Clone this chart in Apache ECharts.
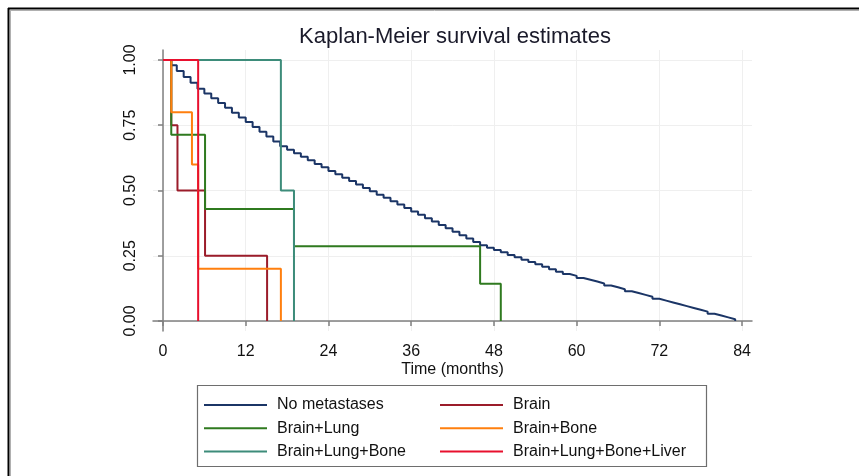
<!DOCTYPE html>
<html><head><meta charset="utf-8">
<script src="https://cdn.jsdelivr.net/npm/echarts@6/dist/echarts.min.js"></script>
<style>html,body{margin:0;padding:0;background:#fff}#c{width:859px;height:476px}</style>
</head><body><div id="c"></div>
<script>
const titleText = 'Kaplan-Meier survival estimates';
const xAxisName = 'Time (months)';
const xTicks = [0, 12, 24, 36, 48, 60, 72, 84];
const yTicks = [0, 0.25, 0.5, 0.75, 1];
const seriesNames = ['No metastases', 'Brain', 'Brain+Lung', 'Brain+Bone', 'Brain+Lung+Bone', 'Brain+Lung+Bone+Liver'];

const noMetTimes = [0, 1.2, 2, 3, 4, 5, 6, 7, 8, 9, 10, 11, 12, 13, 14, 15, 16, 17, 18, 19, 20,
  21, 22, 23, 24, 25, 26, 27, 28, 29, 30, 31, 32, 33, 34, 35, 36, 37, 38, 39, 40,
  41, 42, 43, 44, 45, 46, 47, 48, 49, 50, 51, 52, 53, 54, 55, 56, 57, 58, 59, 60,
  61, 62, 63, 64, 65, 66, 67, 68, 69, 70, 71, 72, 73, 74, 75, 76, 77, 78, 79, 80,
  81, 82, 83];
const noMetSurv = [1, 0.98, 0.958, 0.935, 0.913, 0.89, 0.872, 0.853, 0.835, 0.817, 0.798,
  0.78, 0.762, 0.743, 0.725, 0.707, 0.688, 0.67, 0.656, 0.643, 0.629,
  0.616, 0.602, 0.589, 0.575, 0.562, 0.549, 0.536, 0.523, 0.51, 0.497,
  0.484, 0.472, 0.459, 0.446, 0.433, 0.42, 0.407, 0.394, 0.381, 0.368,
  0.355, 0.342, 0.329, 0.316, 0.303, 0.29, 0.281, 0.272, 0.263, 0.253,
  0.244, 0.235, 0.226, 0.217, 0.208, 0.198, 0.189, 0.18, 0.173, 0.165,
  0.158, 0.151, 0.144, 0.136, 0.129, 0.122, 0.114, 0.107, 0.1, 0.093,
  0.085, 0.078, 0.071, 0.064, 0.057, 0.05, 0.043, 0.036, 0.028, 0.021,
  0.014, 0.007, 0.0];

const brainTimes = [0, 1.2, 2.1, 6.1, 15.1];
const brainSurv = [1, 0.75, 0.5, 0.25, 0];

const brainLungTimes = [0, 1.2, 6.1, 19.0, 46.0, 49.0];
const brainLungSurv = [1, 0.714, 0.429, 0.286, 0.143, 0];

const brainBoneTimes = [0, 1.2, 4.2, 5.1, 17.1];
const brainBoneSurv = [1, 0.8, 0.6, 0.2, 0];

const brainLungBoneTimes = [0, 17.1, 19.0];
const brainLungBoneSurv = [1, 0.5, 0];

const liverTimes = [0, 5.1];
const liverSurv = [1, 0];

const colors = ['#1b3566', '#9b1c2a', '#2f7a1f', '#ff7f0e', '#3d8c7a', '#e8102e'];

function pairs(t, s) { return t.map((v, i) => [v, s[i]]); }
const allData = [
  pairs(noMetTimes, noMetSurv),
  pairs(brainTimes, brainSurv),
  pairs(brainLungTimes, brainLungSurv),
  pairs(brainBoneTimes, brainBoneSurv),
  pairs(brainLungBoneTimes, brainLungBoneSurv),
  pairs(liverTimes, liverSurv)
];

const font = 'Liberation Sans, Arial, sans-serif';
const chart = echarts.init(document.getElementById('c'), null, {renderer: 'canvas'});

const legendCommon = {
  orient: 'vertical', selectedMode: false, padding: 0,
  itemWidth: 63, itemHeight: 2, itemGap: 7.3, icon: 'rect',
  textStyle: {fontFamily: font, fontSize: 16, color: '#111', lineHeight: 16, padding: [0, 0, 0, 5]}
};

chart.setOption({
  animation: false,
  color: colors,
  title: {
    text: titleText, left: 450, top: 21, textAlign: 'center',
    textStyle: {fontFamily: font, fontSize: 22, fontWeight: 'normal', color: '#1a1a2a'}
  },
  grid: {left: 153, right: 107, top: 50, bottom: 145, containLabel: false},
  legend: [
    Object.assign({}, legendCommon, {left: 204, top: 397, data: [seriesNames[0], seriesNames[2], seriesNames[4]]}),
    Object.assign({}, legendCommon, {left: 440, top: 397, data: [seriesNames[1], seriesNames[3], seriesNames[5]]})
  ],
  xAxis: {
    type: 'value', min: -1.45, max: 85.44,
    name: xAxisName, nameLocation: 'middle', nameGap: 31, nameMoveOverlap: false,
    nameTextStyle: {fontFamily: font, fontSize: 16, color: '#111'},
    axisLine: {show: true, lineStyle: {color: '#808080', width: 1.5}},
    axisTick: {show: true, length: 5, customValues: xTicks, lineStyle: {color: '#808080', width: 1.5}},
    axisLabel: {customValues: xTicks, fontFamily: font, fontSize: 16, color: '#111', margin: 13},
    splitLine: {show: true, lineStyle: {color: '#efefef', width: 1}}
  },
  yAxis: {
    type: 'value', min: -0.0383, max: 1.0383,
    axisLine: {show: true, lineStyle: {color: '#808080', width: 1.5}},
    axisTick: {show: true, length: 5, customValues: yTicks, lineStyle: {color: '#808080', width: 1.5}},
    axisLabel: {customValues: yTicks, rotate: 90, fontFamily: font, fontSize: 16, color: '#111', margin: 14,
      formatter: v => v.toFixed(2)},
    splitLine: {show: true, lineStyle: {color: '#efefef', width: 1}}
  },
  graphic: [
    {type: 'line', shape: {x1: 8, y1: 8.5, x2: 859, y2: 8.5}, style: {stroke: '#000', lineWidth: 2}, silent: true},
    {type: 'line', shape: {x1: 8.5, y1: 8, x2: 8.5, y2: 476}, style: {stroke: '#000', lineWidth: 2}, silent: true},
    {type: 'line', shape: {x1: 10, y1: 10.5, x2: 859, y2: 10.5}, style: {stroke: '#b0b0b0', lineWidth: 1}, silent: true},
    {type: 'line', shape: {x1: 10.5, y1: 10, x2: 10.5, y2: 476}, style: {stroke: '#b0b0b0', lineWidth: 1}, silent: true},
    {type: 'rect', shape: {x: 197.5, y: 385.5, width: 509, height: 81}, style: {fill: 'none', stroke: '#6e6e6e', lineWidth: 1.2}, silent: true}
  ],
  series: seriesNames.map((n, i) => ({
    name: n, type: 'line', step: 'end', data: allData[i],
    showSymbol: false, symbol: 'none', lineStyle: {width: 2, color: colors[i]},
    itemStyle: {color: colors[i]}, z: 2 + i
  }))
});
</script></body></html>
